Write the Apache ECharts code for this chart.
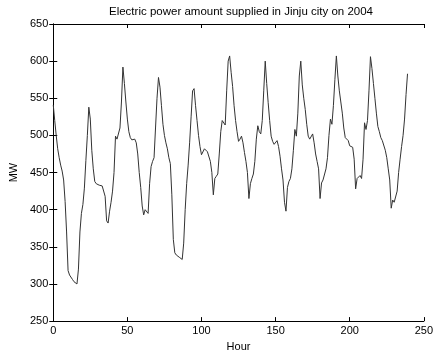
<!DOCTYPE html>
<html>
<head>
<meta charset="utf-8">
<script src="https://cdn.jsdelivr.net/npm/echarts@6/dist/echarts.min.js"></script>
<style>
  html, body { margin: 0; padding: 0; background: #fff; }
  #chart { width: 436px; height: 357px; }
</style>
</head>
<body>
<div id="chart"></div>
<script>
// hourly load (MW), one array per day
const day1 = [541, 520, 500, 482, 470, 460, 452, 440, 411, 370, 318, 312, 310, 306, 303, 301, 300, 320, 370, 395, 407, 429, 466, 500];
const day2 = [538, 522, 480, 455, 438, 435, 433, 433, 432, 432, 430, 418, 385, 382, 398, 410, 425, 450, 499, 495, 497, 510, 545, 592];
const day3 = [570, 545, 522, 505, 497, 494, 493, 495, 490, 475, 450, 430, 405, 393, 400, 398, 395, 435, 458, 465, 470, 510, 550, 578];
const day4 = [565, 540, 515, 500, 490, 482, 470, 462, 420, 360, 342, 339, 337, 336, 334, 333, 355, 400, 435, 460, 490, 525, 560, 563];
const day5 = [540, 520, 500, 485, 474, 474, 482, 480, 478, 476, 465, 450, 420, 442, 445, 448, 475, 505, 520, 520, 514, 560, 600, 607];
const day6 = [585, 566, 540, 520, 505, 492, 495, 499, 490, 477, 465, 450, 415, 435, 442, 448, 465, 495, 513, 505, 502, 520, 560, 600];
const day7 = [570, 544, 520, 499, 492, 488, 490, 493, 485, 472, 455, 440, 410, 398, 430, 438, 442, 455, 480, 508, 499, 530, 580, 600];
const day8 = [568, 550, 535, 515, 499, 495, 493, 502, 490, 475, 465, 455, 415, 436, 440, 442, 455, 470, 500, 522, 515, 540, 575, 607];
const day9 = [580, 560, 545, 530, 510, 497, 495, 493, 486, 485, 484, 468, 428, 442, 444, 446, 442, 468, 517, 508, 520, 560, 606, 590];
const day10 = [570, 550, 530, 512, 505, 497, 493, 495, 480, 470, 455, 440, 402, 413, 410, 411, 425, 450, 468, 485, 500, 522, 555, 583];

const load = [].concat(day1, day2, day3, day4, day5, day6, day7, day8, day9, day10);
const hours = load.map((v, i) => i);

const FONT = 'Liberation Sans, Arial, sans-serif';

const chart = echarts.init(document.getElementById('chart'), null, { renderer: 'canvas' });

const tickStyle = { show: true, inside: true, length: 4, lineStyle: { color: '#000', width: 1 } };
const frameLine = { show: true, lineStyle: { color: '#000', width: 1 } };

const option = {
  animation: false,
  backgroundColor: '#fff',
  title: {
    text: 'Electric power amount supplied in Jinju city on 2004',
    left: 236,
    textAlign: 'center',
    top: 1,
    textStyle: { fontFamily: FONT, fontSize: 11.5, fontWeight: 'normal', color: '#000' }
  },
  grid: { left: 46, right: 9, top: 24, bottom: 32 },
  xAxis: [
    {
      type: 'value',
      min: 0,
      max: 250,
      interval: 50,
      name: 'Hour',
      nameLocation: 'middle',
      nameGap: 18,
      nameTextStyle: { fontFamily: FONT, fontSize: 11, color: '#000' },
      axisLine: frameLine,
      axisTick: tickStyle,
      axisLabel: { fontFamily: FONT, fontSize: 11, color: '#000', margin: 4 },
      splitLine: { show: false }
    },
    {
      type: 'value',
      position: 'top',
      min: 0,
      max: 250,
      interval: 50,
      axisLine: frameLine,
      axisTick: tickStyle,
      axisLabel: { show: false },
      splitLine: { show: false }
    }
  ],
  yAxis: [
    {
      type: 'value',
      min: 250,
      max: 650,
      interval: 50,
      name: 'MW',
      nameLocation: 'middle',
      nameGap: 30,
      nameRotate: 90,
      nameTextStyle: { fontFamily: FONT, fontSize: 11, color: '#000' },
      axisLine: frameLine,
      axisTick: tickStyle,
      axisLabel: { fontFamily: FONT, fontSize: 11, color: '#000', margin: 5 },
      splitLine: { show: false }
    },
    {
      type: 'value',
      position: 'right',
      min: 250,
      max: 650,
      interval: 50,
      axisLine: frameLine,
      axisTick: tickStyle,
      axisLabel: { show: false },
      splitLine: { show: false }
    }
  ],
  series: [
    {
      name: 'Load',
      type: 'line',
      xAxisIndex: 0,
      yAxisIndex: 0,
      showSymbol: false,
      symbol: 'none',
      lineStyle: { color: '#333', width: 1 },
      data: hours.map((h, i) => [h, load[i]])
    }
  ]
};

chart.setOption(option);
</script>
</body>
</html>
